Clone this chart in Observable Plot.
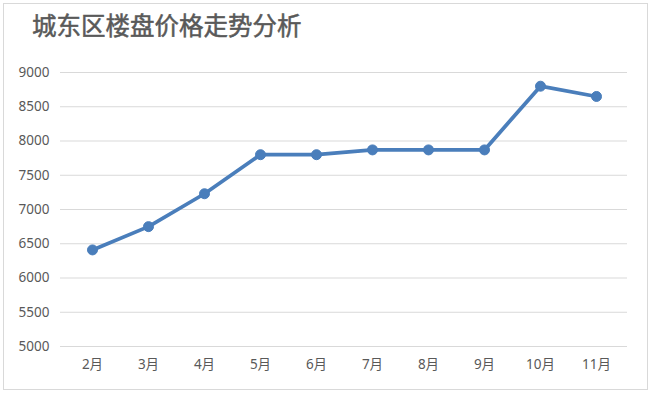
<!DOCTYPE html>
<html>
<head>
<meta charset="utf-8">
<script src="https://cdn.jsdelivr.net/npm/d3@7"></script>
<script src="https://cdn.jsdelivr.net/npm/@observablehq/plot@0.6"></script>
<style>
  html, body { margin: 0; padding: 0; background: #fff; }
  #frame { position: absolute; left: 3px; top: 3px; width: 645px; height: 387px; border: 1px solid #d9d9d9; box-sizing: border-box; }
  #title { position: absolute; left: 32px; top: 10px; font-family: "Noto Sans CJK SC", sans-serif; font-weight: normal; font-size: 24.5px; line-height: 1.2; color: #595959; -webkit-text-stroke: 0.5px #595959; }
  #chart { position: absolute; left: 0; top: 0; }
</style>
</head>
<body>
<div id="frame"></div>
<div id="title">城东区楼盘价格走势分析</div>
<div id="chart"></div>
<script>
const months = ["2月","3月","4月","5月","6月","7月","8月","9月","10月","11月"];
const prices = [6410, 6750, 7230, 7800, 7800, 7870, 7870, 7870, 8800, 8650];
const yTicks = [5000, 5500, 6000, 6500, 7000, 7500, 8000, 8500, 9000];

const data = months.map((m, i) => ({month: m, price: prices[i]}));
const lineColor = "#4a7ebb";

const chart = Plot.plot({
  width: 650,
  height: 395,
  marginLeft: 60,
  marginRight: 23,
  marginTop: 72,
  marginBottom: 49,
  style: { fontFamily: "'Noto Sans', 'Noto Sans CJK SC', sans-serif", fontSize: "13.5px", color: "#595959", background: "transparent" },
  x: { type: "point", domain: months, padding: 0.5, label: null },
  y: { domain: [5000, 9000], label: null },
  marks: [
    Plot.gridY(yTicks, { stroke: "#d9d9d9", strokeOpacity: 1, strokeWidth: 1 }),
    Plot.axisY(yTicks, { tickSize: 0, tickPadding: 11, tickFormat: d => String(d), label: null, fill: "#595959", fontSize: 13.5 }),
    Plot.axisX({ tickSize: 0, tickPadding: 13, label: null, fill: "#595959", fontSize: 13.5 }),
    Plot.line(data, { x: "month", y: "price", stroke: lineColor, strokeWidth: 3.75, strokeLinejoin: "round", strokeLinecap: "round" }),
    Plot.dot(data, { x: "month", y: "price", r: 5, fill: lineColor, stroke: lineColor, strokeWidth: 1 })
  ]
});
document.getElementById("chart").appendChild(chart);
</script>
</body>
</html>
